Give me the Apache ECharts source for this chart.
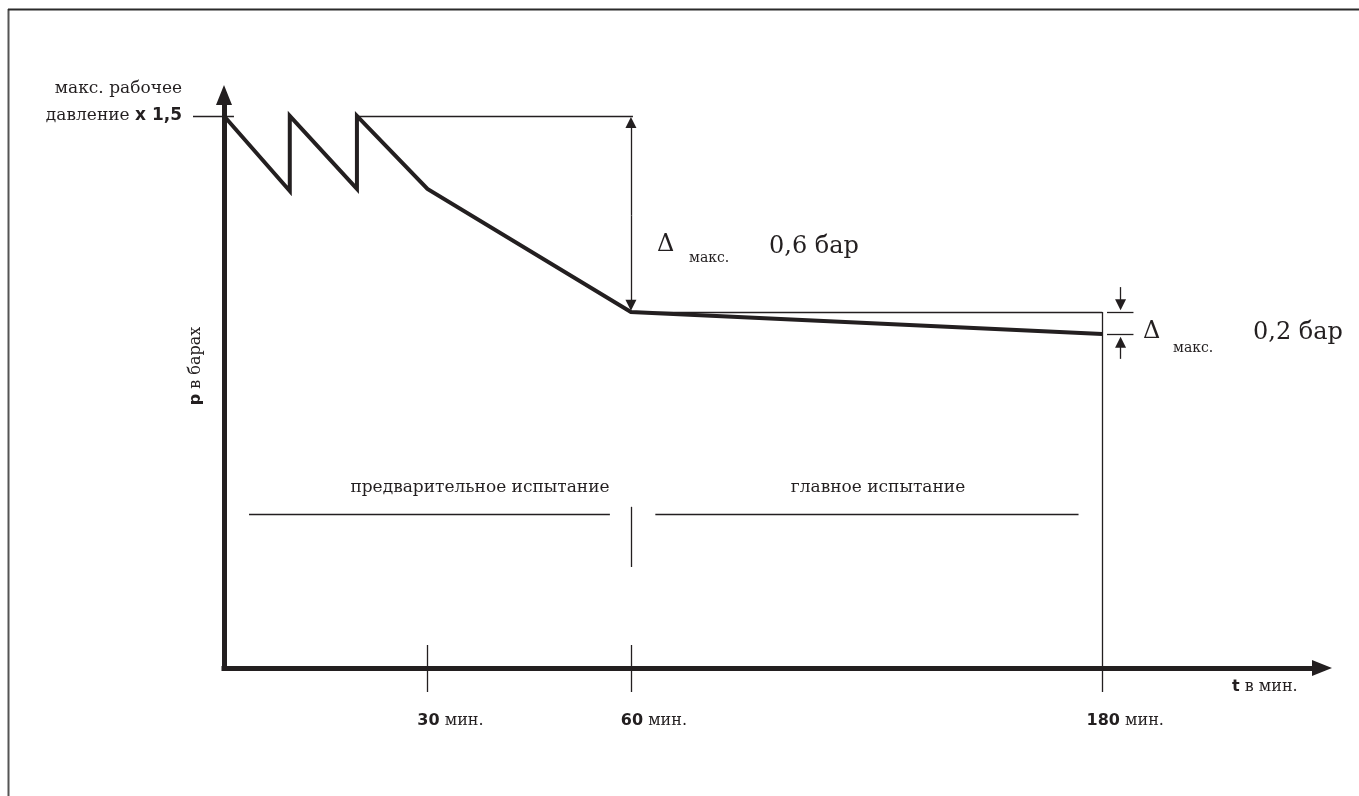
<!DOCTYPE html>
<html>
<head>
<meta charset="utf-8">
<script src="https://cdn.jsdelivr.net/npm/echarts@6/dist/echarts.min.js"></script>
<style>
html,body{margin:0;padding:0;background:#fff;}
#chart{width:1359px;height:796px;}
</style>
</head>
<body>
<div id="chart"></div>
<script>
// ---- data (schematic test diagram) ----
// time positions on the schematic time axis (axis is not to scale)
const profileTime = [0, 9.7, 9.7, 19.6, 19.6, 30, 60, 129.5];
// relative pressure (10 = max. working pressure x 1.5)
const profilePressure = [10, 8.64, 10, 8.68, 10, 8.68, 6.45, 6.05];
const timeTickPos = [30, 60, 129.5];
const timeTickLabels = ['30', '60', '180'];
const timeUnit = 'мин.';
const yTopLabel = ['макс. рабочее', 'давление', 'x 1,5'];
const yAxisTitle = ['p', 'в барах'];
const xAxisTitle = ['t', 'в мин.'];
const phaseLabels = ['предварительное испытание', 'главное испытание'];
const deltaLabels = ['0,6 бар', '0,2 бар'];
const deltaSub = 'макс.';

const INK = '#231f20';
const SERIF = '"DejaVu Serif", serif';
const SANS = '"DejaVu Sans", sans-serif';

const profile = profileTime.map((t, i) => [t, profilePressure[i]]);
const peak = profilePressure[4];
const p60 = profilePressure[6];
const p180 = profilePressure[7];
const t60 = profileTime[6];
const t180 = profileTime[7];

const plainSegments = [
  [[-4.57, peak], [1.47, peak]],
  [[profileTime[4], peak], [60.3, peak]],
  [[t60, p60], [t180, p60]],
  [[t180, p60], [t180, -0.435]],
  [[timeTickPos[0], 0.417], [timeTickPos[0], -0.435]],
  [[timeTickPos[1], 0.417], [timeTickPos[1], -0.435]],
  [[130.2, p60], [134.1, p60]],
  [[130.2, p180], [134.1, p180]],
  [[3.69, 2.79], [56.9, 2.79]],
  [[63.6, 2.79], [126.0, 2.79]],
  [[t60, 2.92], [t60, 1.83]]
];
const arrowSegments = [
  [[t60, 8.2], [t60, 9.88]],
  [[t60, 8.2], [t60, 6.57]],
  [[132.2, 6.9], [132.2, 6.58]],
  [[132.2, 5.6], [132.2, 5.9]]
];

const chart = echarts.init(document.getElementById('chart'));
chart.setOption({
  backgroundColor: '#fff',
  animation: false,
  grid: { left: 224, right: 37, top: 95, bottom: 128 },
  xAxis: {
    type: 'value', min: 0, max: 161.9,
    splitLine: { show: false },
    axisTick: { show: false },
    axisLine: {
      show: true, symbol: ['none', 'triangle'], symbolSize: [16, 20],
      lineStyle: { color: INK, width: 5, cap: 'square' }
    },
    axisLabel: {
      customValues: timeTickPos,
      margin: 43,
      padding: [0, 0, 0, 46],
      formatter: function (v) {
        const i = timeTickPos.indexOf(v);
        return '{n|' + timeTickLabels[i] + '}{u| ' + timeUnit + '}';
      },
      rich: {
        n: { fontFamily: SANS, fontWeight: 'bold', fontSize: 16, color: INK, lineHeight: 20 },
        u: { fontFamily: SERIF, fontSize: 16, color: INK, lineHeight: 20 }
      }
    },
    name: '{b|' + xAxisTitle[0] + '}{u| ' + xAxisTitle[1] + '}',
    nameLocation: 'end',
    nameGap: -90,
    nameTextStyle: {
      align: 'left', verticalAlign: 'top', padding: [9, 0, 0, 0],
      rich: {
        b: { fontFamily: SANS, fontWeight: 'bold', fontSize: 16, color: INK, lineHeight: 20 },
        u: { fontFamily: SERIF, fontSize: 16, color: INK, lineHeight: 20 }
      }
    }
  },
  yAxis: {
    type: 'value', min: 0, max: 10.38,
    splitLine: { show: false },
    axisTick: { show: false },
    axisLine: {
      show: true, symbol: ['none', 'triangle'], symbolSize: [16, 20],
      lineStyle: { color: INK, width: 5, cap: 'square' }
    },
    axisLabel: {
      customValues: [peak],
      margin: 42,
      padding: [0, 0, 27, 0],
      formatter: function () {
        return '{s|' + yTopLabel[0] + '}\n{s|' + yTopLabel[1] + ' }{b|' + yTopLabel[2] + '}';
      },
      rich: {
        s: { fontFamily: SERIF, fontSize: 17, color: INK, lineHeight: 27 },
        b: { fontFamily: SANS, fontWeight: 'bold', fontSize: 17, color: INK, lineHeight: 27 }
      }
    }
  },
  series: [
    {
      type: 'line', data: profile, symbol: 'none', clip: false,
      lineStyle: { color: INK, width: 4, join: 'miter', miterLimit: 10 },
      z: 5
    },
    {
      type: 'lines', coordinateSystem: 'cartesian2d', clip: false,
      symbol: 'none',
      lineStyle: { color: INK, width: 1.3, opacity: 1 },
      data: plainSegments.map(c => ({ coords: c }))
    },
    {
      type: 'lines', coordinateSystem: 'cartesian2d', clip: false,
      symbol: ['none', 'triangle'], symbolSize: [8, 11],
      lineStyle: { color: INK, width: 1.3, opacity: 1 },
      data: arrowSegments.map(c => ({ coords: c }))
    }
  ],
  graphic: [
    { type: 'line', shape: { x1: 8.5, y1: 9, x2: 8.5, y2: 796 }, style: { stroke: '#555', lineWidth: 2 } },
    { type: 'line', shape: { x1: 8, y1: 9.5, x2: 1359, y2: 9.5 }, style: { stroke: '#2b2b2b', lineWidth: 2 } },
    {
      type: 'text', x: 196, y: 366, rotation: Math.PI / 2,
      style: {
        text: '{b|' + yAxisTitle[0] + '}{u| ' + yAxisTitle[1] + '}',
        align: 'center', verticalAlign: 'middle',
        rich: {
          b: { fontFamily: SANS, fontWeight: 'bold', fontSize: 16, fill: INK },
          u: { fontFamily: SERIF, fontSize: 16, fill: INK }
        }
      }
    },
    { type: 'text', x: 480, y: 488, style: { text: phaseLabels[0], font: '17px ' + SERIF, fill: INK, align: 'center', verticalAlign: 'middle' } },
    { type: 'text', x: 878, y: 488, style: { text: phaseLabels[1], font: '17px ' + SERIF, fill: INK, align: 'center', verticalAlign: 'middle' } },
    { type: 'text', x: 657, y: 245, style: { text: 'Δ', font: '24px ' + SERIF, fill: INK, align: 'left', verticalAlign: 'middle' } },
    { type: 'text', x: 689, y: 258, style: { text: deltaSub, font: '14px ' + SERIF, fill: INK, align: 'left', verticalAlign: 'middle' } },
    { type: 'text', x: 769, y: 247, style: { text: deltaLabels[0], font: '24px ' + SERIF, fill: INK, align: 'left', verticalAlign: 'middle' } },
    { type: 'text', x: 1143, y: 332, style: { text: 'Δ', font: '24px ' + SERIF, fill: INK, align: 'left', verticalAlign: 'middle' } },
    { type: 'text', x: 1173, y: 348, style: { text: deltaSub, font: '14px ' + SERIF, fill: INK, align: 'left', verticalAlign: 'middle' } },
    { type: 'text', x: 1253, y: 333, style: { text: deltaLabels[1], font: '24px ' + SERIF, fill: INK, align: 'left', verticalAlign: 'middle' } }
  ]
});
</script>
</body>
</html>
